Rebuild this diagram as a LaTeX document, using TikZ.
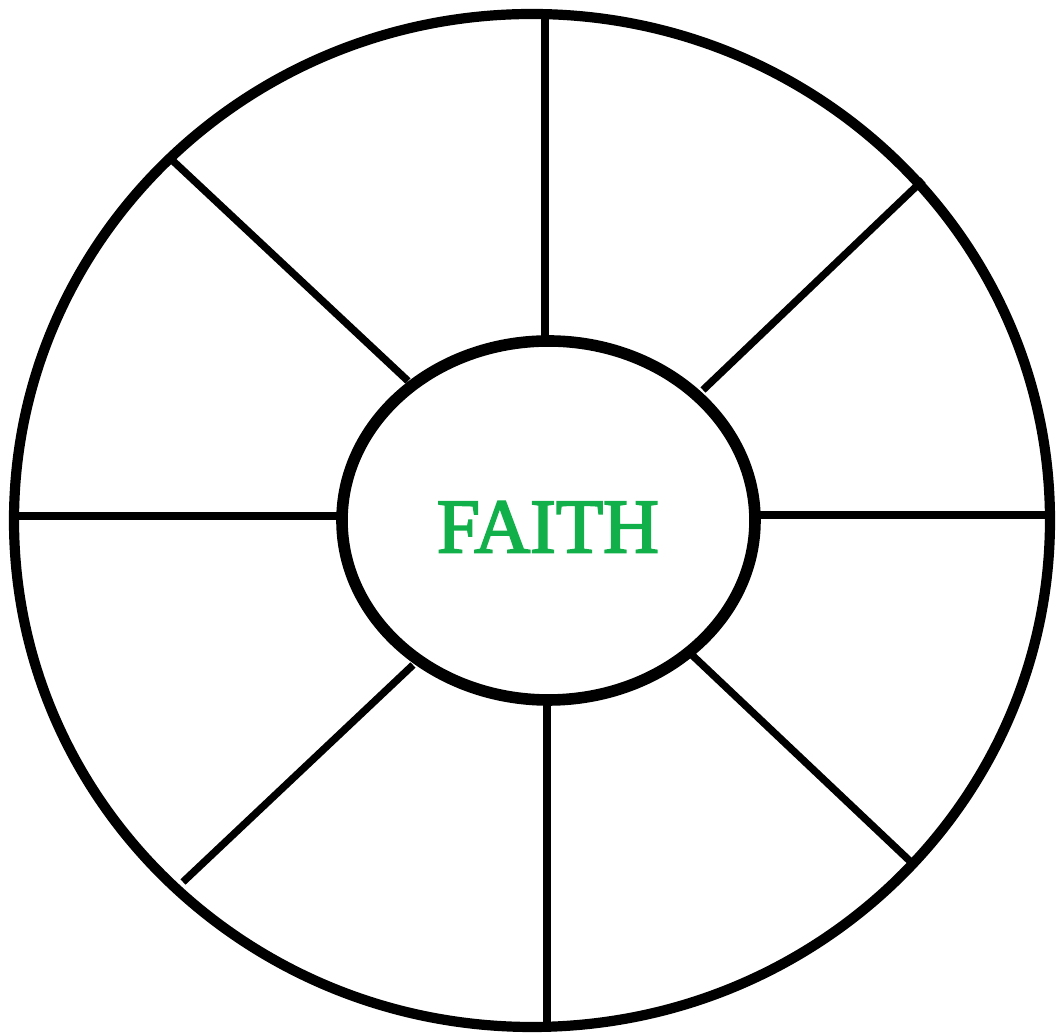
\documentclass[tikz,border=0pt]{standalone}
\usepackage{fontspec}
\setmainfont{Liberation Serif}
\newfontfamily\faithfont[FakeBold=2.5]{Liberation Serif}
\usepackage{tikz}
\usetikzlibrary{calc}
\definecolor{faithgreen}{RGB}{18,176,75}

\begin{document}
\begin{tikzpicture}[x=0.01cm,y=-0.01cm,
        rim/.style={line width=2.9pt},
        hub/.style={line width=3.3pt},
        spoke/.style={line width=2.1pt}]
        % рамка рисунка
        \useasboundingbox (0,0) rectangle (1056,1034);

        \coordinate (O) at (532,520.5);
        \coordinate (H) at (548.5,520.5);

        % кінці спиць
        \coordinate (N1) at (545,18);    \coordinate (N2) at (545,341);
        \coordinate (S1) at (547,1024);  \coordinate (S2) at (547,700);
        \coordinate (W1) at (16,516);    \coordinate (W2) at (342,516);
        \coordinate (E1) at (1049,515);  \coordinate (E2) at (755,515);
        \coordinate (NW1) at (172,160);  \coordinate (NW2) at (408,381);
        \coordinate (NE1) at (923,180);  \coordinate (NE2) at (703,390);
        \coordinate (SW1) at (183,882);  \coordinate (SW2) at (413,665);
        \coordinate (SE1) at (913,864);  \coordinate (SE2) at (692,655);

        \foreach \s in {N,S,W,E,NW,NE,SW,SE}
            \draw[spoke] (\s1) -- (\s2);

        \draw[rim] (O) ellipse [x radius=518, y radius=506.5];
        \draw[hub, fill=white] (H) ellipse [x radius=206.5, y radius=179.5];

        \node[text=faithgreen, font=\faithfont\fontsize{22}{26}\selectfont] (faith) at (548,527) {FAITH};
    \end{tikzpicture}
\end{document}
